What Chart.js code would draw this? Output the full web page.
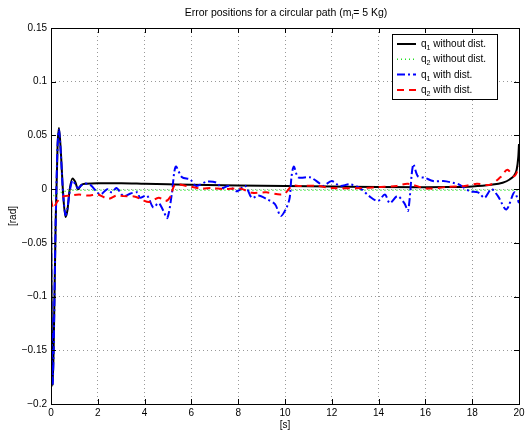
<!DOCTYPE html>
<html>
<head>
<meta charset="utf-8">
<script src="https://cdn.jsdelivr.net/npm/chart.js"></script>
<style>
  html, body { margin: 0; padding: 0; background: #fff; }
</style>
</head>
<body>
<canvas id="errChart" width="531" height="432"></canvas>
<script>
// q1 without disturbance (black)
const tQ1 = [0, 0.03, 0.07, 0.12, 0.2, 0.28, 0.34, 0.42, 0.52, 0.62, 0.7, 0.8, 0.92, 1.05, 1.15, 1.3, 1.5, 2, 3, 4, 5, 6, 8, 10, 12, 14, 16, 17, 18, 18.8, 19.3, 19.6, 19.8, 19.9, 19.97, 20];
const q1 = [0, -0.12, -0.183, -0.14, -0.03, 0.04, 0.057, 0.035, -0.005, -0.026, -0.02, 0.0, 0.01, 0.006, 0.0, 0.004, 0.005, 0.0055, 0.0055, 0.005, 0.0045, 0.004, 0.0035, 0.003, 0.0025, 0.002, 0.0018, 0.002, 0.0025, 0.004, 0.006, 0.009, 0.013, 0.018, 0.03, 0.042];

// q2 without disturbance (green)
const tQ2 = [0, 0.1, 0.3, 0.6, 1, 2, 5, 10, 15, 20];
const q2 = [-0.003, -0.006, -0.004, -0.002, -0.001, -0.001, -0.001, -0.001, -0.001, -0.001];

// q1 with disturbance (blue)
const tQ1d = [0, 0.03, 0.07, 0.12, 0.2, 0.28, 0.34, 0.42, 0.52, 0.62, 0.7, 0.8, 0.92, 1.05, 1.15, 1.4, 1.68, 2.1, 2.4, 2.6, 2.8, 3.1, 3.4, 3.7, 3.8, 4.1, 4.37, 4.6, 4.8, 4.97, 5.16, 5.33, 5.6, 5.95, 6.2, 6.66, 7.08, 7.3, 7.58, 7.94, 8.3, 8.58, 8.86, 9.2, 9.57, 9.82, 10.07, 10.2, 10.28, 10.38, 10.57, 11.07, 11.5, 11.63, 12.0, 12.35, 12.77, 13.2, 13.6, 13.97, 14.27, 14.48, 14.8, 15.1, 15.26, 15.48, 15.68, 15.98, 16.33, 16.76, 17.17, 17.47, 17.9, 18.25, 18.53, 18.82, 19.1, 19.46, 19.8, 20];
const q1d = [0, -0.12, -0.181, -0.14, -0.03, 0.04, 0.055, 0.033, -0.005, -0.024, -0.018, -0.002, 0.008, 0.004, 0.001, 0.005, 0.004, -0.005, 0, -0.003, 0.001, -0.0065, -0.004, -0.003, -0.008, -0.006, -0.017, -0.013, -0.02, -0.027, -0.005, 0.021, 0.011, 0.009, 0.003, 0.007, 0.006, 0.001, 0.003, -0.002, 0.003, -0.008, -0.006, -0.009, -0.014, -0.025, -0.017, -0.008, 0.012, 0.021, 0.011, 0.011, 0.005, 0.003, 0.0075, 0.003, 0.0045, 0.001, -0.0065, -0.011, -0.005, -0.013, -0.0065, -0.013, -0.02, 0.023, 0.012, 0.0105, 0.0075, 0.0075, 0.006, 0.004, -0.002, -0.003, -0.008, 0, -0.0065, -0.019, -0.003, -0.013];

// q2 with disturbance (red)
const tQ2d = [0, 0.1, 0.25, 0.5, 0.8, 1.2, 1.6, 2.0, 2.45, 2.8, 3.1, 3.6, 3.9, 4.2, 4.6, 4.9, 5.1, 5.3, 5.8, 6.37, 6.9, 7.36, 8.08, 8.6, 9.2, 9.8, 10.0, 10.3, 10.6, 11.35, 12.05, 13.3, 14.0, 14.77, 15.25, 16.05, 16.9, 17.68, 18.2, 18.75, 19.2, 19.5, 19.8, 20];
const q2d = [-0.01, -0.018, -0.012, -0.007, -0.006, -0.005, -0.006, -0.005, -0.009, -0.006, -0.0065, -0.007, -0.01, -0.012, -0.008, -0.011, -0.007, 0.004, 0.003, 0.0006, 0.001, 0, 0.0006, -0.0034, -0.003, -0.005, -0.004, 0.003, 0.003, 0.003, 0.001, 0.001, 0.002, 0.003, 0.005, 0.0006, 0.002, 0.003, 0.005, 0.004, 0.011, 0.018, 0.012, 0.021];

const xTicks = [0, 2, 4, 6, 8, 10, 12, 14, 16, 18, 20];
const yTicks = [-0.2, -0.15, -0.1, -0.05, 0, 0.05, 0.1, 0.15];
const yTickLabels = ['\u22120.2', '\u22120.15', '\u22120.1', '\u22120.05', '0', '0.05', '0.1', '0.15'];

const legendSub = ['1', '2', '1', '2'];
const legendText = [' without dist.', ' without dist.', ' with dist.', ' with dist.'];

const FONT = '"Liberation Sans", Arial, Helvetica, sans-serif';

function pts(t, v) {
    return t.map((x, i) => ({ x: x, y: v[i] }));
}

// draws text with a subscript part: parts = [[text, isSub], ...]
function drawRich(ctx, x, y, parts, size, align) {
    const widths = parts.map(p => {
        ctx.font = (p[1] ? size * 0.72 : size) + 'px ' + FONT;
        return ctx.measureText(p[0]).width;
    });
    const total = widths.reduce((a, b) => a + b, 0);
    let cx = align === 'center' ? x - total / 2 : x;
    ctx.textAlign = 'left';
    ctx.textBaseline = 'alphabetic';
    parts.forEach((p, i) => {
        ctx.font = (p[1] ? size * 0.72 : size) + 'px ' + FONT;
        ctx.fillText(p[0], cx, p[1] ? y + size * 0.3 : y);
        cx += widths[i];
    });
}

const matlabFrame = {
    id: 'matlabFrame',
    afterDraw(chart) {
        const { ctx, chartArea: a, scales } = chart;
        ctx.save();
        ctx.strokeStyle = '#000';
        ctx.lineWidth = 1;
        ctx.setLineDash([]);
        ctx.strokeRect(a.left + 0.5, a.top + 0.5, a.right - a.left, a.bottom - a.top);

        ctx.beginPath();
        xTicks.forEach(v => {
            const px = Math.round(scales.x.getPixelForValue(v)) + 0.5;
            ctx.moveTo(px, a.bottom); ctx.lineTo(px, a.bottom - 5);
            ctx.moveTo(px, a.top); ctx.lineTo(px, a.top + 5);
        });
        yTicks.forEach(v => {
            const py = Math.round(scales.y.getPixelForValue(v)) + 0.5;
            ctx.moveTo(a.left, py); ctx.lineTo(a.left + 5, py);
            ctx.moveTo(a.right, py); ctx.lineTo(a.right - 5, py);
        });
        ctx.stroke();

        // title
        ctx.fillStyle = '#000';
        drawRich(ctx, 286, 16, [['Error positions for a circular path (m', false], ['l', true], ['= 5 Kg)', false]], 10.5, 'center');

        // legend box
        const lx = 392.5, ly = 34.5, lw = 105, lh = 65;
        ctx.fillStyle = '#fff';
        ctx.fillRect(lx, ly, lw, lh);
        ctx.strokeStyle = '#000';
        ctx.strokeRect(lx, ly, lw, lh);
        chart.data.datasets.forEach((ds, i) => {
            const ry = 44 + i * 15.3;
            ctx.save();
            ctx.strokeStyle = ds.borderColor;
            ctx.lineWidth = ds.borderWidth;
            ctx.setLineDash(ds.borderDash || []);
            ctx.beginPath();
            ctx.moveTo(397, ry);
            ctx.lineTo(416, ry);
            ctx.stroke();
            ctx.restore();
            ctx.fillStyle = '#000';
            drawRich(ctx, 421, ry + 3, [['q', false], [legendSub[i], true], [legendText[i], false]], 10, 'left');
        });
        ctx.restore();
    }
};

new Chart(document.getElementById('errChart'), {
    type: 'line',
    data: {
        datasets: [
            { label: 'q\u2081 without dist.', data: pts(tQ1, q1), borderColor: '#000000', borderWidth: 2, order: 4, cubicInterpolationMode: 'monotone' },
            { label: 'q\u2082 without dist.', data: pts(tQ2, q2), borderColor: '#22e022', borderWidth: 1.5, borderDash: [1, 3], order: 3, cubicInterpolationMode: 'monotone' },
            { label: 'q\u2081 with dist.', data: pts(tQ1d, q1d), borderColor: '#0000ff', borderWidth: 2, borderDash: [8, 3, 2, 3], order: 2, tension: 0.3 },
            { label: 'q\u2082 with dist.', data: pts(tQ2d, q2d), borderColor: '#ff0000', borderWidth: 2, borderDash: [7, 5], order: 1, tension: 0.3 }
        ]
    },
    options: {
        responsive: false,
        animation: false,
        layout: { padding: { top: 28, right: 12, left: 0, bottom: 0 } },
        elements: { point: { radius: 0 } },
        plugins: {
            legend: { display: false },
            title: { display: false },
            tooltip: { enabled: false }
        },
        scales: {
            x: {
                type: 'linear',
                min: 0,
                max: 20,
                afterBuildTicks: s => { s.ticks = xTicks.map(v => ({ value: v })); },
                afterFit: s => { s.height = 28; },
                ticks: { color: '#000', font: { family: FONT, size: 10 }, padding: 3, maxRotation: 0 },
                grid: { color: '#999', drawTicks: false },
                border: { display: false, dash: [1, 3] },
                title: { display: true, text: '[s]', color: '#000', font: { family: FONT, size: 10 }, padding: { top: 0, bottom: 1 } }
            },
            y: {
                min: -0.2,
                max: 0.15,
                afterBuildTicks: s => { s.ticks = yTicks.map(v => ({ value: v })); },
                afterFit: s => { s.width = 51; },
                ticks: { color: '#000', font: { family: FONT, size: 10 }, padding: 4, callback: (v, i) => yTickLabels[i] },
                grid: { color: '#999', drawTicks: false },
                border: { display: false, dash: [1, 3] },
                title: { display: true, text: '[rad]', color: '#000', font: { family: FONT, size: 10 }, padding: { top: 7, bottom: 0 } }
            }
        }
    },
    plugins: [matlabFrame]
});
</script>
</body>
</html>
